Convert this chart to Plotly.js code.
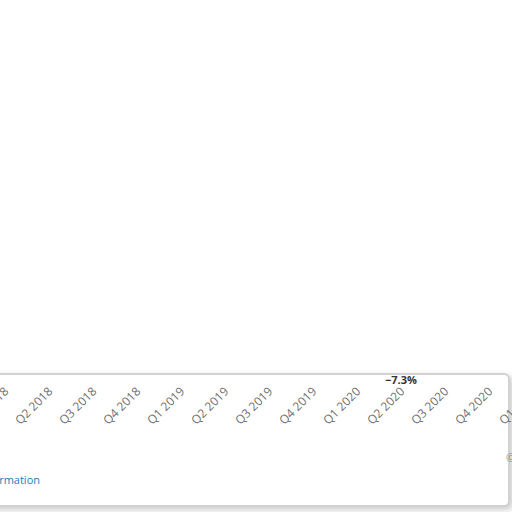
<!DOCTYPE html>
<html>
<head>
<meta charset="utf-8">
<script src="https://cdn.plot.ly/plotly-3.0.1.min.js"></script>
<style>
    html, body { margin: 0; padding: 0; width: 512px; height: 512px; overflow: hidden; background: #fff; }
    #card {
        position: absolute; left: -20px; top: 373px; width: 526px; height: 130px;
        border: 2px solid #d2d2d2; border-radius: 6px;
        box-shadow: 3px 3px 6px rgba(0, 0, 0, 0.2);
        background: #fff;
    }
    #chart { position: absolute; left: -17px; top: 0; width: 572px; height: 512px; }
</style>
</head>
<body>
<div id="card"></div>
<div id="chart"></div>
<script>
// quarters on the x axis
const quarters = ["Q1 2018", "Q2 2018", "Q3 2018", "Q4 2018",
                  "Q1 2019", "Q2 2019", "Q3 2019", "Q4 2019",
                  "Q1 2020", "Q2 2020", "Q3 2020", "Q4 2020", "Q1 2021"]
// the only value label that can be read in the picture
const label_quarters = ["Q2 2020"]
const label_values = [-7.3]
const label_texts = ["\u22127.3%"]

let data = [{
    type: "scatter",
    mode: "text",
    x: label_quarters,
    y: label_values,
    text: label_texts,
    textposition: "bottom center",
    textfont: {family: "Open Sans, sans-serif", size: 11, color: "#333", weight: "bold"},
    cliponaxis: false,
    hoverinfo: "skip",
    showlegend: false,
}]

const margin_b = 131
const plot_h = 512 - margin_b

let layout = {
    width: 572,
    height: 512,
    margin: {l: 0, r: 0, t: 0, b: margin_b},
    paper_bgcolor: "rgba(0,0,0,0)",
    plot_bgcolor: "rgba(0,0,0,0)",
    showlegend: false,
    xaxis: {
        type: "category",
        categoryorder: "array",
        categoryarray: quarters,
        tickvals: quarters,
        range: [-0.5, 12.5],
        tickangle: -45,
        showgrid: false,
        zeroline: false,
        showline: false,
        ticks: "",
        tickfont: {family: "Open Sans, sans-serif", size: 12, color: "#707070"},
    },
    yaxis: {
        range: [-8, 45.3],
        visible: false,
    },
    annotations: [
        {
            // footer link, mostly cut off at the left edge
            xref: "paper", yref: "paper",
            x: 59 / 572, y: -(479 - plot_h) / plot_h,
            xanchor: "right", yanchor: "middle",
            text: "Additional Information",
            showarrow: false,
            font: {family: "Open Sans, sans-serif", size: 11, color: "#1a7bb9"},
        },
        {
            // source note, cut off at the right edge
            xref: "paper", yref: "paper",
            x: 521 / 572, y: -(457 - plot_h) / plot_h,
            xanchor: "left", yanchor: "middle",
            text: "\u00a9 Statista 2021",
            showarrow: false,
            font: {family: "Open Sans, sans-serif", size: 11, color: "#888"},
        },
    ],
}

Plotly.newPlot("chart", data, layout, {staticPlot: true})
</script>
</body>
</html>
